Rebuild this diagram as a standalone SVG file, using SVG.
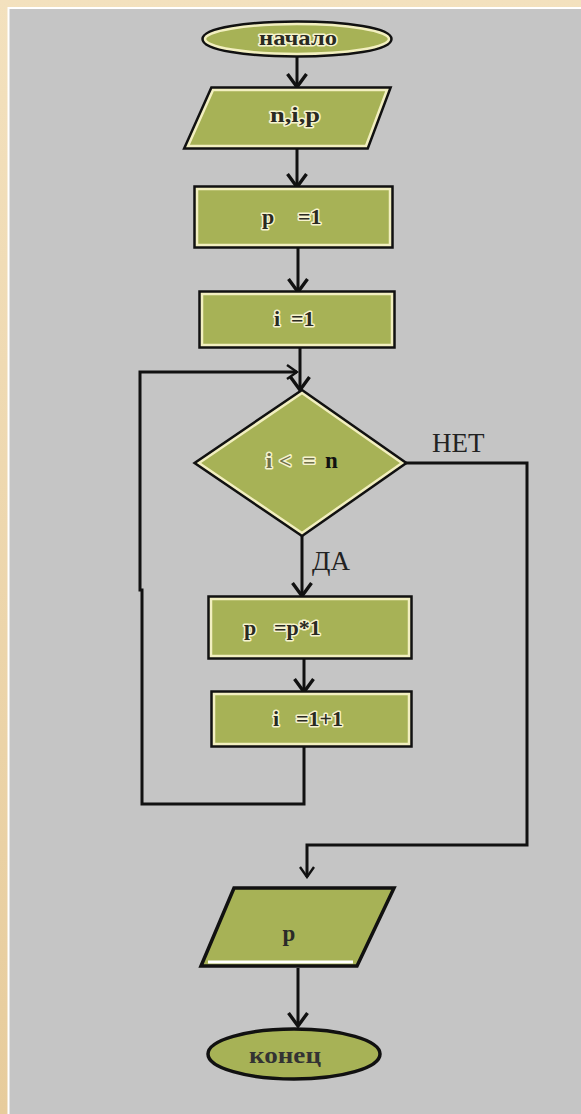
<svg xmlns="http://www.w3.org/2000/svg" width="581" height="1114" viewBox="0 0 581 1114">
  <defs>
    <linearGradient id="frameGrad" x1="0" y1="0" x2="0" y2="1">
      <stop offset="0" stop-color="#F3E1BE"/>
      <stop offset="1" stop-color="#E7CC9C"/>
    </linearGradient>
    <marker id="arrow" markerUnits="userSpaceOnUse" viewBox="-16 -12 18 24" markerWidth="18" markerHeight="24" refX="0" refY="0" orient="auto">
      <path d="M-13,-9.5 L0,0 L-13,9.5" fill="none" stroke="#111" stroke-width="3.4" stroke-linejoin="miter"/>
    </marker>
    <marker id="arrowSmall" markerUnits="userSpaceOnUse" viewBox="-12 -9 14 18" markerWidth="14" markerHeight="18" refX="0" refY="0" orient="auto">
      <path d="M-10,-7 L0,0 L-10,7" fill="none" stroke="#111" stroke-width="2.4"/>
    </marker>
    <style>
      .rim { fill: none; stroke: #111; stroke-width: 7.5; stroke-linejoin: miter; }
      .face { fill: #A7B256; stroke: #F2EFC0; stroke-width: 2.5; stroke-linejoin: miter; }
      .plain { fill: #A7B256; stroke: #111; stroke-width: 3.5; stroke-linejoin: miter; }
      .lbl { font-family: "Liberation Serif", "Times New Roman", serif; font-weight: bold; font-size: 22px; fill: #2A2A22; stroke: #F6F3CF; stroke-width: 3; paint-order: stroke; stroke-linejoin: round; }
      .dark { font-family: "Liberation Serif", "Times New Roman", serif; font-weight: bold; fill: #2A2A28; }
      .branch { font-family: "Liberation Serif", "Times New Roman", serif; font-size: 27px; fill: #222; }
      .wire { fill: none; stroke: #111; stroke-width: 3; stroke-linejoin: miter; }
    </style>
  </defs>

  <!-- backdrop: beige frame with grey panel -->
  <rect x="0" y="0" width="581" height="1114" fill="url(#frameGrad)"/>
  <rect x="7.5" y="7" width="574" height="1107" fill="#FFFFFF"/>
  <rect x="9.5" y="9" width="572" height="1105" fill="#C5C5C5"/>

  <!-- connectors -->
  <g id="connectors">
    <path class="wire" d="M297,56 V87" marker-end="url(#arrow)"/>
    <path class="wire" d="M297,148 V187" marker-end="url(#arrow)"/>
    <path class="wire" d="M298,247 V292" marker-end="url(#arrow)"/>
    <path class="wire" d="M300,346 V390" marker-end="url(#arrow)"/>
    <path class="wire" d="M304,745 V804 H142 V590 H140 V372 H297" marker-end="url(#arrowSmall)"/>
    <path class="wire" d="M302,534 V596" marker-end="url(#arrow)"/>
    <path class="wire" d="M304,658 V692" marker-end="url(#arrow)"/>
    <path class="wire" d="M404,463 H527 V845 H307 V877" stroke-width="2.6" marker-end="url(#arrowSmall)"/>
    <path class="wire" d="M298,968 V1026" marker-end="url(#arrow)"/>
    <text class="branch" x="432" y="452">НЕТ</text>
    <text class="branch" x="312" y="570">ДА</text>
  </g>

  <!-- start -->
  <g id="start">
    <ellipse class="rim" cx="297" cy="39" rx="92" ry="15"/>
    <ellipse class="face" cx="297" cy="39" rx="92" ry="15"/>
    <text class="lbl" x="298" y="45" font-size="20" text-anchor="middle" textLength="78" lengthAdjust="spacingAndGlyphs">начало</text>
  </g>

  <!-- input n, i, p -->
  <g id="input">
    <polygon class="rim" points="213,90 387,90 366,146 188,146"/>
    <polygon class="face" points="213,90 387,90 366,146 188,146"/>
    <text class="lbl" x="295" y="122" text-anchor="middle" textLength="50" lengthAdjust="spacingAndGlyphs">n,i,p</text>
  </g>

  <!-- p := 1 -->
  <g id="set-p">
    <rect class="rim" x="197" y="189" width="193" height="56"/>
    <rect class="face" x="197" y="189" width="193" height="56"/>
    <text class="lbl" y="224"><tspan x="262">p </tspan><tspan x="298">=1</tspan></text>
  </g>

  <!-- i := 1 -->
  <g id="set-i">
    <rect class="rim" x="202" y="294" width="190" height="51"/>
    <rect class="face" x="202" y="294" width="190" height="51"/>
    <text class="lbl" y="326"><tspan x="274">i </tspan><tspan x="291">=1</tspan></text>
  </g>

  <!-- loop condition -->
  <g id="condition">
    <polygon class="rim" points="302,393 402,463 302,533 199,463"/>
    <polygon class="face" points="302,393 402,463 302,533 199,463"/>
    <text class="lbl" x="266 279 303" y="468" style="fill:#6E7048">i&lt;=</text>
    <text class="dark" x="325" y="468" font-size="23" style="fill:#111">n</text>
  </g>

  <!-- p := p*i -->
  <g id="mul">
    <rect class="rim" x="211" y="599" width="198" height="57"/>
    <rect class="face" x="211" y="599" width="198" height="57"/>
    <text class="lbl" y="635"><tspan x="244">p </tspan><tspan x="274">=p*1</tspan></text>
  </g>

  <!-- i := i+1 -->
  <g id="inc">
    <rect class="rim" x="214" y="694" width="195" height="50"/>
    <rect class="face" x="214" y="694" width="195" height="50"/>
    <text class="lbl" y="726"><tspan x="273">i </tspan><tspan x="296">=1+1</tspan></text>
  </g>

  <!-- output p -->
  <g id="output">
    <polygon class="plain" points="234,888 394,888 357,966 201,966"/>
    <line x1="208" y1="962" x2="353" y2="962" stroke="#FFFFFF" stroke-width="3"/>
    <text class="dark" x="289" y="941" font-size="23" text-anchor="middle">p</text>
  </g>

  <!-- end -->
  <g id="end">
    <ellipse class="plain" cx="294" cy="1054" rx="86" ry="25"/>
    <text class="dark" x="285" y="1063" font-size="23" text-anchor="middle" textLength="72" lengthAdjust="spacingAndGlyphs" style="fill:#333">конец</text>
  </g>
</svg>
